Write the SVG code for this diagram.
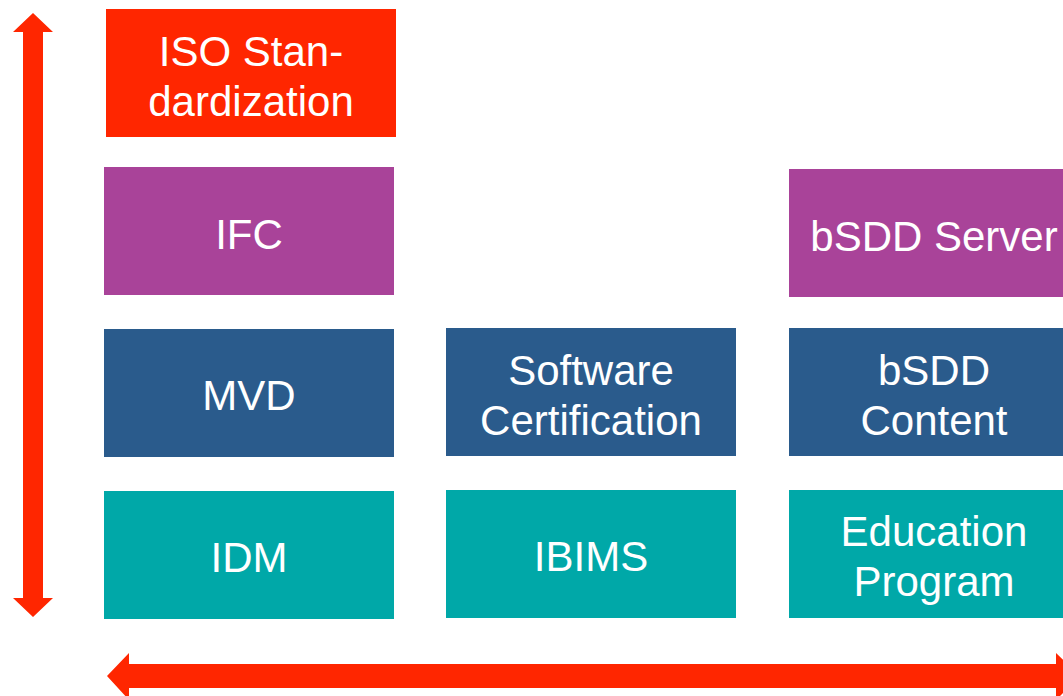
<svg xmlns="http://www.w3.org/2000/svg" width="1063" height="696" viewBox="0 0 1063 696">
<style>
.t{font-family:"Liberation Sans",Arial,sans-serif;font-size:42px;fill:#fff;text-anchor:middle}
.red{fill:#FF2600}.pur{fill:#A94399}.blu{fill:#2A5B8C}.tea{fill:#00A8A8}
</style>
<rect width="1063" height="696" fill="#fff"/>
<g id="connectors">
<polygon class="red" points="33,13 53,32 43,32 43,598 53,598 33,617 13,598 23,598 23,32 13,32"/>
<polygon class="red" points="107,676 129,653 129,664 1056,664 1056,653 1080,676 1056,700 1056,688 129,688 129,700"/>
</g>
<g id="iso"><rect class="red" x="106" y="9" width="290" height="128"/><text class="t" x="251" y="66">ISO Stan-</text><text class="t" x="251" y="116">dardization</text></g>
<g id="ifc"><rect class="pur" x="104" y="167" width="290" height="128"/><text class="t" x="249" y="249">IFC</text></g>
<g id="bsdd-server"><rect class="pur" x="789" y="169" width="290" height="128"/><text class="t" x="934" y="251">bSDD Server</text></g>
<g id="mvd"><rect class="blu" x="104" y="329" width="290" height="128"/><text class="t" x="249" y="410">MVD</text></g>
<g id="software-certification"><rect class="blu" x="446" y="328" width="290" height="128"/><text class="t" x="591" y="385">Software</text><text class="t" x="591" y="435">Certification</text></g>
<g id="bsdd-content"><rect class="blu" x="789" y="328" width="290" height="128"/><text class="t" x="934" y="385">bSDD</text><text class="t" x="934" y="435">Content</text></g>
<g id="idm"><rect class="tea" x="104" y="491" width="290" height="128"/><text class="t" x="249" y="572">IDM</text></g>
<g id="ibims"><rect class="tea" x="446" y="490" width="290" height="128"/><text class="t" x="591" y="571">IBIMS</text></g>
<g id="education-program"><rect class="tea" x="789" y="490" width="290" height="128"/><text class="t" x="934" y="546">Education</text><text class="t" x="934" y="596">Program</text></g>
</svg>
